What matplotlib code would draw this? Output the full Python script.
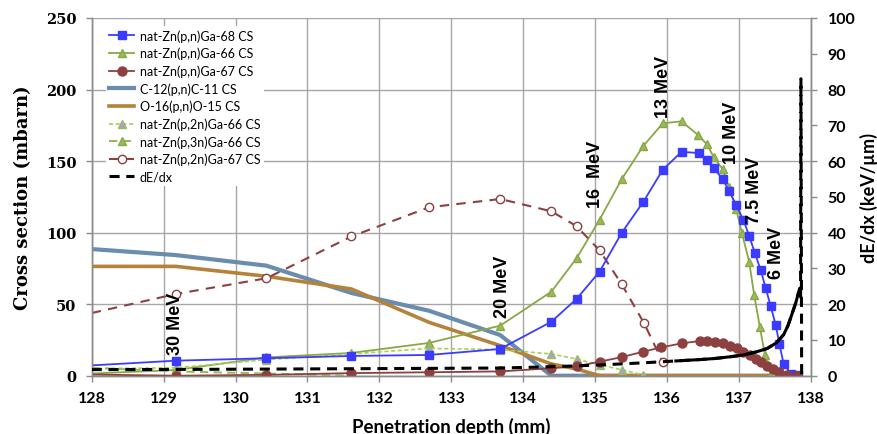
import matplotlib
matplotlib.use("Agg")
import matplotlib.pyplot as plt

# ---------------- data ----------------
ga68_x = [128, 129.17, 130.43, 131.61, 132.69, 133.68, 134.39, 134.74, 135.06, 135.37, 135.67, 135.94,
          136.2, 136.44, 136.55, 136.65, 136.77, 136.86, 136.96, 137.06, 137.14, 137.22, 137.3, 137.37,
          137.44, 137.51, 137.56, 137.62, 137.72, 137.82]
ga68_y = [7.2, 10.5, 12.2, 13.8, 14.5, 18.7, 37.7, 53.6, 72.7, 100.0, 121.6, 144.0,
          156.5, 155.6, 150.7, 145.0, 137.5, 129.3, 119.3, 108.8, 97.8, 85.7, 73.9, 61.3,
          48.5, 35.4, 22.2, 8.2, 1.5, 0.3]

ga66_pn_x = [128, 129.17, 130.43, 131.61, 132.69, 133.68, 134.39, 134.74, 135.06, 135.37, 135.67, 135.94,
             136.2, 136.43, 136.55, 136.65, 136.77, 136.86, 136.96, 137.04, 137.14, 137.21, 137.29, 137.36,
             137.46, 137.55, 137.65, 137.75]
ga66_pn_y = [1.5, 4.0, 12.8, 15.9, 22.9, 35.0, 58.7, 82.0, 109.0, 137.5, 160.7, 176.4,
             177.8, 168.2, 161.9, 152.6, 144.4, 131.6, 116.5, 99.7, 79.7, 56.4, 33.8, 14.5,
             2.4, 0.5, 0.2, 0.0]

ga67_pn_x = [128, 129.17, 130.43, 131.61, 132.69, 133.68, 134.39, 134.74, 135.06, 135.37, 135.67, 135.92,
             136.2, 136.45, 136.55, 136.66, 136.77, 136.88, 136.97, 137.06, 137.15, 137.23, 137.31, 137.39,
             137.47, 137.56, 137.66, 137.8]
ga67_pn_y = [0.8, 0.0, 0.6, 1.8, 2.4, 3.0, 5.2, 6.5, 9.8, 13.0, 16.8, 19.8,
             22.6, 24.2, 24.2, 23.8, 22.6, 21.0, 19.1, 16.8, 14.5, 11.7, 9.4, 7.0,
             4.7, 2.4, 0.5, 0.0]

coarse_x = [128, 129.17, 130.43, 131.61, 132.69, 133.68, 134.39, 134.74, 135.06, 135.37, 135.67, 135.94,
            136.5, 137.0, 137.5, 137.85]
c11_y = [88.5, 84.3, 76.9, 57.8, 45.4, 28.4, 0.0, 0.0, 0.0, 0.0, 0.0, 0.0, 0.0, 0.0, 0.0, 0.0]
o15_y = [76.4, 76.4, 69.5, 60.6, 37.3, 21.0, 8.2, 4.7, 0.0, 0.0, 0.0, 0.0, 0.0, 0.0, 0.0, 0.0]

ga66_p2n_x = [128, 129.17, 130.43, 131.61, 132.69, 133.68, 134.39, 134.74, 135.06, 135.37, 135.67]
ga66_p2n_y = [5.0, 5.5, 11.2, 15.2, 19.1, 18.2, 15.2, 11.7, 7.5, 4.2, 0.5]

ga66_p3n_x = [128, 129.17, 130.43, 131.61]
ga66_p3n_y = [5.5, 3.0, 1.5, 0.0]

ga67_p2n_x = [128, 129.17, 130.43, 131.61, 132.69, 133.68, 134.39, 134.74, 135.06, 135.37, 135.68, 135.94]
ga67_p2n_y = [43.8, 57.1, 68.1, 97.3, 117.7, 123.5, 114.9, 104.5, 87.6, 63.8, 36.6, 9.4]

dedx_x = [128, 129.17, 130.43, 131.61, 132.69, 133.68, 134.39, 135.06, 135.67, 136.1, 136.45, 136.66,
          136.88, 137.06, 137.23, 137.39, 137.52, 137.62, 137.68, 137.74, 137.79, 137.83, 137.845,
          137.855, 137.86, 137.87]
dedx_y = [1.7, 1.75, 1.85, 1.95, 2.05, 2.15, 2.5, 3.0, 3.6, 4.1, 4.5, 4.8,
          5.3, 5.8, 6.6, 7.6, 9.2, 11.5, 14.0, 17.5, 20.5, 23.5, 24.5,
          22.0, 83.0, 0.0]
dedx_solid_from, dedx_solid_to = 9, 22

energy_labels = ["30 MeV", "20 MeV", "16  MeV", "13 MeV", "10 MeV", "7.5 MeV", "6 MeV"]
energy_x = [129.17, 133.71, 135.0, 135.95, 136.9, 137.21, 137.52]
energy_y = [15, 41, 118, 181, 149, 107, 68]

legend_labels = ["nat-Zn(p,n)Ga-68 CS", "nat-Zn(p,n)Ga-66 CS", "nat-Zn(p,n)Ga-67 CS",
                 "C-12(p,n)C-11 CS", "O-16(p,n)O-15 CS", "nat-Zn(p,2n)Ga-66 CS",
                 "nat-Zn(p,3n)Ga-66 CS", "nat-Zn(p,2n)Ga-67 CS", "dE/dx"]

x_ticks = list(range(128, 139))
left_ticks = [0, 50, 100, 150, 200, 250]
right_ticks = list(range(0, 101, 10))

# ---------------- figure ----------------
W, H = 877, 435
fig = plt.figure(figsize=(W / 100, H / 100), dpi=100)
L, R, T, B = 91.7, 811.0, 19.0, 376.7
ax = fig.add_axes([L / W, 1 - B / H, (R - L) / W, (B - T) / H])
ax2 = ax.twinx()

calibri = ["Lato", "DejaVu Sans"]
cambria = ["DejaVu Serif"]
arial = ["Liberation Sans", "DejaVu Sans"]

blue = "#3B3BFF"
olive_line = "#89A845"
olive_mk = "#9BBB59"
brown = "#8C4040"
steel = "#6A8CAE"
gold = "#B5823A"
lime = "#A9CF54"
lav = "#A3A3D6"

h = []
h += ax.plot(ga68_x, ga68_y, color=blue, lw=1.3, marker="s", ms=5.8, mfc=blue, mec=blue,
             markevery=slice(1, None), zorder=5)
h += ax.plot(ga66_pn_x, ga66_pn_y, color=olive_line, lw=1.3, marker="^", ms=6, mfc=olive_mk,
             mec=olive_line, markevery=slice(1, None), zorder=4)
h += ax.plot(ga67_pn_x, ga67_pn_y, color=brown, lw=1.3, marker="o", ms=6.5, mfc=brown,
             mec=brown, markevery=slice(1, None), zorder=6)
h += ax.plot(coarse_x, c11_y, color=steel, lw=3.0, zorder=3)
h += ax.plot(coarse_x, o15_y, color=gold, lw=2.6, zorder=3)
h += ax.plot(ga66_p2n_x, ga66_p2n_y, color=lime, lw=1.2, ls=(0, (2.5, 1.5)), marker="^", ms=6,
             mfc=lav, mec=olive_mk, markevery=slice(1, None), zorder=4)
h += ax.plot(ga66_p3n_x, ga66_p3n_y, color=olive_mk, lw=1.5, ls=(0, (4, 2.5)), marker="^", ms=6,
             mfc=olive_mk, mec=olive_line, markevery=slice(1, None), zorder=4)
h += ax.plot(ga67_p2n_x, ga67_p2n_y, color=brown, lw=1.5, ls=(0, (4.5, 3.5)), marker="o", ms=6,
             mfc="white", mec=brown, markevery=slice(1, None), zorder=4)

hd = ax2.plot(dedx_x, dedx_y, color="black", lw=2.2, ls=(0, (3.3, 2.2)), zorder=7)
ax2.plot(dedx_x[dedx_solid_from:dedx_solid_to], dedx_y[dedx_solid_from:dedx_solid_to],
         color="black", lw=2.2, zorder=7, solid_capstyle="butt")
h += hd

# axes
ax.set_xlim(128, 138)
ax.set_ylim(0, 250)
ax2.set_ylim(0, 100)
ax.set_xticks(x_ticks)
ax.set_yticks(left_ticks)
ax2.set_yticks(right_ticks)
ax.set_xticklabels([str(t) for t in x_ticks], fontfamily=calibri, fontweight="bold", fontsize=11.5)
ax.set_yticklabels([str(t) for t in left_ticks], fontfamily=cambria, fontweight="bold", fontsize=10.5)
ax2.set_yticklabels([str(t) for t in right_ticks], fontfamily=calibri, fontweight="bold", fontsize=11.5)

ax.grid(True, color="#A6A6A6", lw=1.0)
ax.set_axisbelow(True)
for a in (ax, ax2):
    a.spines["top"].set_visible(False)
    for s in ("left", "right", "bottom"):
        a.spines[s].set_color("#8C8C8C")
        a.spines[s].set_linewidth(1.0)
ax.tick_params(axis="both", direction="out", length=4, width=1, color="#8C8C8C", pad=7)
ax2.tick_params(axis="y", direction="out", length=4, width=1, color="#8C8C8C", pad=8)

ax.set_ylabel("Cross section (mbarn)", fontfamily=cambria, fontweight="bold", fontsize=13, labelpad=10)
ax2.set_ylabel("dE/dx (keV/\u00b5m)", fontfamily=calibri, fontweight="bold", fontsize=13, labelpad=3)
fig.text((L + R) / 2 / W, 1 - 418 / H, "Penetration depth (mm)", fontfamily=calibri,
         fontweight="bold", fontsize=13.5, ha="center", va="top")

for lab, xx, yy in zip(energy_labels, energy_x, energy_y):
    ax.text(xx, yy, lab, rotation=90, ha="center", va="bottom", fontfamily=arial,
            fontweight="bold", fontsize=13, color="black", zorder=8)

leg = ax2.legend(h, legend_labels, loc="upper left", bbox_to_anchor=(106 / W, 1 - 27 / H),
                 bbox_transform=fig.transFigure, frameon=True, fancybox=False, framealpha=1,
                 facecolor="white", edgecolor="none", prop={"family": calibri, "size": 9},
                 handlelength=2.0, handletextpad=0.45, labelspacing=0.41, borderpad=0.25,
                 borderaxespad=0, numpoints=1)
leg.set_zorder(20)

fig.savefig("out.png", dpi=100)
